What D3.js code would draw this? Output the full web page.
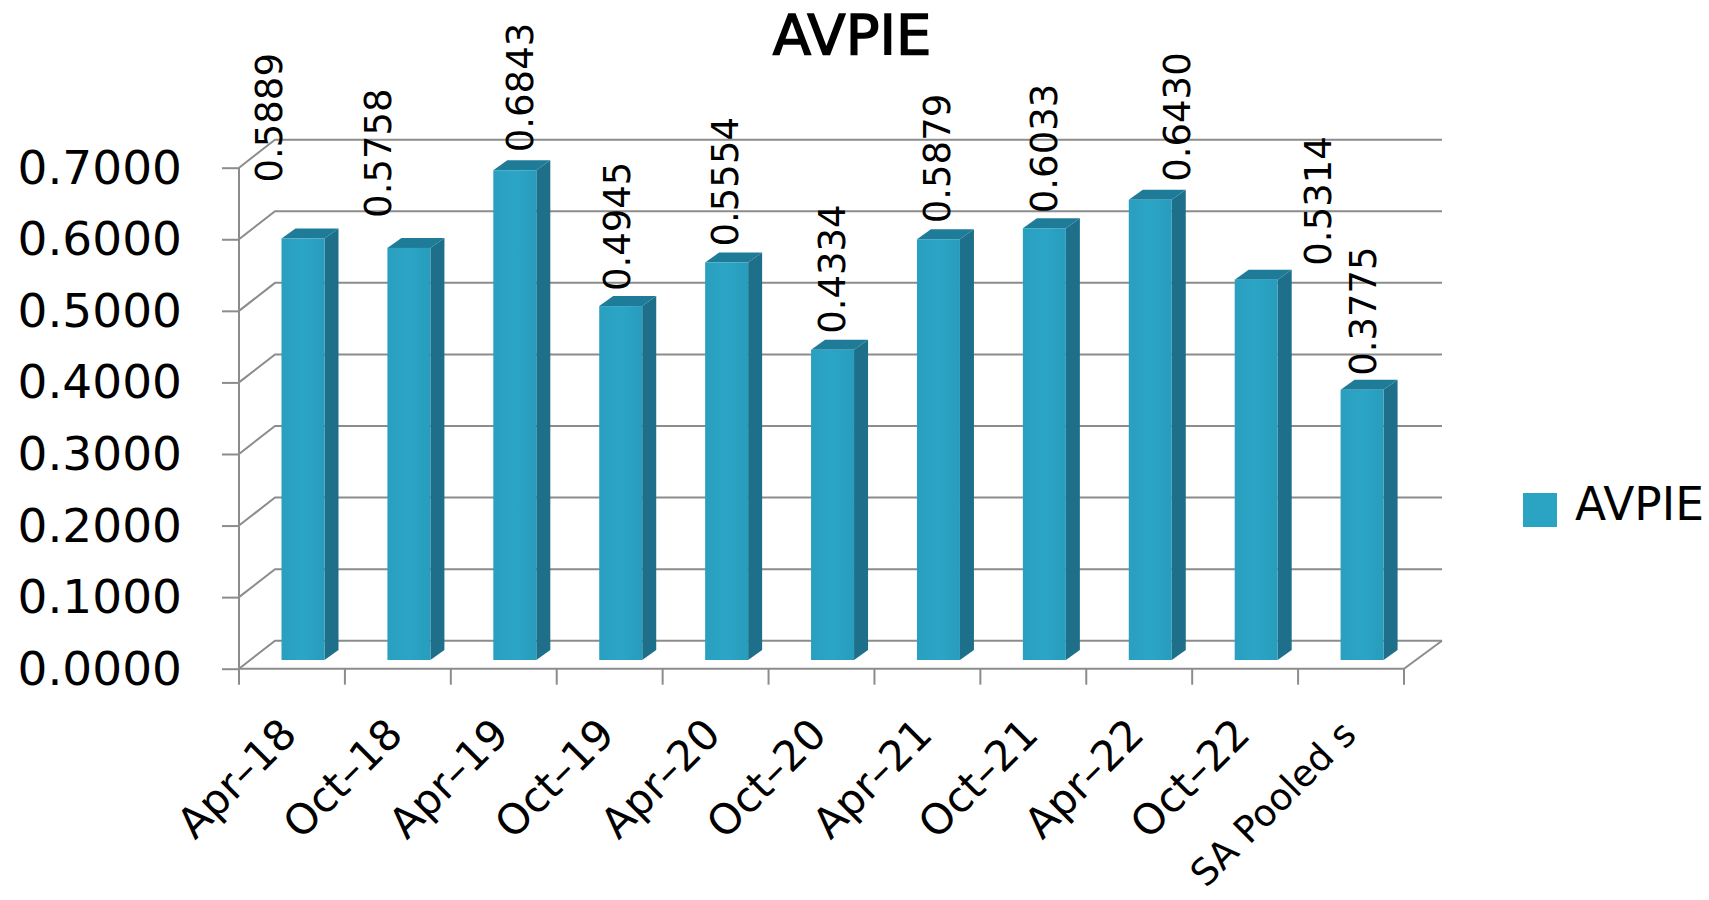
<!DOCTYPE html>
<html>
<head>
<meta charset="utf-8">
<script src="https://cdn.jsdelivr.net/npm/d3@7"></script>
<style>
html, body { margin: 0; background: #fff; }
svg { display: block; }
text { font-family: "DejaVu Sans", sans-serif; fill: #000; }
.yaxis .domain { display: none; }
</style>
</head>
<body>
<script>
var categories = ["Apr–18","Oct–18","Apr–19","Oct–19","Apr–20","Oct–20","Apr–21","Oct–21","Apr–22","Oct–22","SA Pooled s"];
var avpie = [0.5889,0.5758,0.6843,0.4945,0.5554,0.4334,0.5879,0.6033,0.6430,0.5314,0.3775];
var yTicks = [0,0.1,0.2,0.3,0.4,0.5,0.6,0.7];

var w = 1709, h = 900;
var left = 239, right = 1404, top0 = 167.7, bottom = 668.7;
var wallX = 36, wallY = 28;   // depth of the 3d box
var barDx = 14, barDy = 10;   // depth of a bar
var gridColor = "#8c8c8c";

// hand placed data labels (dx from bar left edge, dy from bar top)
var labelDx = [-18,-14,22,13,15,16,15,16,43,78,17];
var labelDy = [-56,-30,-18,-15,-16,-16,-16,-15,-18,-14,-14];

var x = d3.scaleBand().domain(categories).range([left, right]);
var y = d3.scaleLinear().domain([0, 0.7]).range([bottom, top0]);

var svg = d3.select("body").append("svg")
	.attr("width", w)
	.attr("height", h);

var defs = svg.append("defs");
var grad = defs.append("linearGradient").attr("id", "face");
grad.append("stop").attr("offset", "0%").attr("stop-color", "#2a9fbf");
grad.append("stop").attr("offset", "50%").attr("stop-color", "#2ba5c6");
grad.append("stop").attr("offset", "100%").attr("stop-color", "#289cbc");

// back wall grid and the slanted lines on the side wall
svg.append("g").selectAll("path")
	.data(yTicks)
	.enter()
	.append("path")
	.attr("d", function(d) {
		return d3.line()([
			[left, y(d)],
			[left + wallX, y(d) - wallY],
			[right + wallX + 2, y(d) - wallY]
		]);
	})
	.style("fill", "none")
	.style("stroke", gridColor)
	.style("stroke-width", 2);

// floor right edge
svg.append("line")
	.attr("x1", right).attr("y1", y(0))
	.attr("x2", right + wallX + 2).attr("y2", y(0) - wallY)
	.style("stroke", gridColor)
	.style("stroke-width", 2);

// y axis
var yAxis = d3.axisLeft(y)
	.tickValues(yTicks)
	.tickSize(17)
	.tickPadding(40)
	.tickFormat(d3.format(".4f"));

var gy = svg.append("g")
	.attr("class", "yaxis")
	.attr("transform", "translate(" + left + ",0)")
	.call(yAxis);
gy.selectAll("line").style("stroke", gridColor).style("stroke-width", 2);
gy.selectAll("text").style("font-size", "47px").attr("dy", "0.33em");

svg.append("line")
	.attr("x1", left).attr("x2", left)
	.attr("y1", y(0.7)).attr("y2", y(0) + 16)
	.style("stroke", gridColor)
	.style("stroke-width", 2);

// x axis line and the ticks between categories
svg.append("line")
	.attr("x1", left).attr("x2", right)
	.attr("y1", y(0)).attr("y2", y(0))
	.style("stroke", gridColor)
	.style("stroke-width", 2);

svg.append("g").selectAll("line")
	.data(categories.slice(1).concat([null]))
	.enter()
	.append("line")
	.attr("x1", function(d) { return d === null ? right : x(d); })
	.attr("x2", function(d) { return d === null ? right : x(d); })
	.attr("y1", y(0))
	.attr("y2", y(0) + 16)
	.style("stroke", gridColor)
	.style("stroke-width", 2);

// bars
var barOffset = 42.5, barWidth = 43, baseY = y(0) - 8.7;
var bars = svg.append("g").selectAll("g")
	.data(avpie)
	.enter()
	.append("g");

function barX(i) { return x(categories[i]) + barOffset; }
function barTop(d) { return y(d) - 8.7; }

bars.append("path")
	.attr("d", function(d, i) {
		var x1 = barX(i) + barWidth;
		return d3.line()([[x1, barTop(d)], [x1 + barDx, barTop(d) - barDy], [x1 + barDx, baseY - barDy], [x1, baseY]]) + "Z";
	})
	.style("fill", "#1d6f8a");

bars.append("path")
	.attr("d", function(d, i) {
		var x0 = barX(i), x1 = x0 + barWidth;
		return d3.line()([[x0, barTop(d)], [x0 + barDx, barTop(d) - barDy], [x1 + barDx, barTop(d) - barDy], [x1, barTop(d)]]) + "Z";
	})
	.style("fill", "#1f7c98");

bars.append("rect")
	.attr("x", function(d, i) { return barX(i); })
	.attr("y", barTop)
	.attr("width", barWidth)
	.attr("height", function(d) { return baseY - barTop(d); })
	.style("fill", "url(#face)");

// data labels
svg.append("g").selectAll("text")
	.data(avpie)
	.enter()
	.append("text")
	.attr("transform", function(d, i) {
		return "translate(" + (barX(i) + labelDx[i] + 18) + "," + (barTop(d) + labelDy[i]) + ") rotate(-90)";
	})
	.style("font-size", "37px")
	.text(d3.format(".4f"));

// category labels, the long one is a bit smaller so it stays on the page
svg.append("g").selectAll("text")
	.data(categories)
	.enter()
	.append("text")
	.attr("transform", function(d) {
		return "translate(" + (x(d) + 60) + "," + (y(0) + 68) + ") rotate(-45)";
	})
	.attr("text-anchor", "end")
	.style("font-size", function(d) { return d.length > 8 ? "37px" : "42px"; })
	.text(function(d) { return d; });

// title
svg.append("text")
	.attr("x", 852).attr("y", 54)
	.attr("text-anchor", "middle")
	.style("font-size", "56px")
	.style("stroke", "#000")
	.style("stroke-width", 1.5)
	.text("AVPIE");

// legend
svg.append("rect")
	.attr("x", 1523).attr("y", 493)
	.attr("width", 34).attr("height", 34)
	.style("fill", "#2ba3c3");
svg.append("text")
	.attr("x", 1575).attr("y", 520)
	.style("font-size", "45.5px")
	.text("AVPIE");
</script>
</body>
</html>
